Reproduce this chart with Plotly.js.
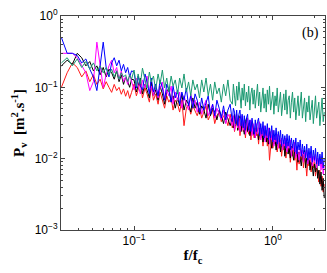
<!DOCTYPE html>
<html><head><meta charset="utf-8">
<script src="https://cdn.plot.ly/plotly-3.0.1.min.js"></script>
<style>html,body{margin:0;padding:0;background:#fff}#chart{width:327px;height:273px}</style>
</head><body><div id="chart"></div>
<script>
// normalized frequency f/fc
var freq = [0.030,0.033,0.036,0.039,0.042,0.045,0.048,0.051,0.054,0.057,0.060,0.063,0.066,0.069,0.072,0.075,0.078,0.081,0.084,0.087,0.090,0.093,0.096,
0.100,0.104,0.107,0.111,0.115,0.120,0.124,0.129,0.133,0.138,0.143,0.149,0.154,0.160,0.166,0.172,0.178,0.185,0.191,0.198,0.206,0.213,0.221,0.229,0.238,0.247,0.256,0.265,0.275,0.285,0.296,0.307,0.318,0.330,0.342,0.355,0.368,0.381,0.395,0.410,0.425,0.441,0.457,0.474,0.492,
0.510,0.519,0.529,0.538,0.548,0.558,0.569,0.579,0.590,0.600,0.611,0.622,0.634,0.645,0.657,0.669,0.682,0.694,0.707,0.720,0.733,0.746,0.760,0.774,0.788,0.802,0.817,0.832,0.848,0.863,0.879,0.895,0.911,0.928,0.945,0.962,0.980,0.998,1.016,1.035,1.054,1.073,1.093,1.113,1.133,1.154,1.175,1.196,1.218,1.240,1.263,1.286,1.310,1.334,1.358,1.383,1.409,1.435,1.461,1.488,1.515,1.543,1.571,1.600,1.629,1.659,1.689,1.720,1.751,1.783,1.816,1.849,1.883,1.918,1.953,1.989,2.025,2.062,2.100,2.139,2.178,2.218,2.258,2.300,2.342];

var pvBlue = [0.50,0.30,0.30,0.28,0.22,0.25,0.18,0.14,0.09,0.20,0.43,0.19,0.14,0.22,0.26,0.20,0.24,0.17,0.21,0.16,0.19,0.14,0.17,
0.164,0.098,0.144,0.104,0.092,0.154,0.119,0.081,0.135,0.086,
0.111,0.076,0.127,0.098,0.066,0.111,0.092,0.062,0.104,0.071,
0.092,0.058,0.086,0.066,0.098,0.055,0.076,0.051,0.081,0.066,
0.045,0.071,0.048,0.062,0.076,0.042,0.058,0.040,0.066,0.051,
0.037,0.055,0.035,0.048,0.058,
0.033,0.051,0.045,0.031,0.048,0.029,0.042,0.048,0.029,0.042,
0.027,0.040,0.025,0.037,0.042,0.025,0.035,0.024,0.037,0.027,
0.022,0.035,0.024,0.033,0.037,0.021,0.031,0.022,0.033,0.0195,
0.029,0.021,0.031,0.0183,0.027,0.0195,0.029,0.0171,0.025,0.0183,
0.027,0.016,0.024,0.0171,0.025,0.015,0.022,0.016,0.021,0.014,
0.022,0.015,0.021,0.0132,0.0195,0.014,0.0183,0.0124,0.0195,0.0116,
0.0171,0.0132,0.0183,0.0108,0.016,0.0116,0.015,0.0102,0.016,0.0095,
0.014,0.0102,0.015,0.0089,0.0132,0.0095,0.014,0.0084,0.0124,0.0079,
0.0116,0.0084,0.0124,0.0074,0.0102];

var pvMagenta = [0.30,0.30,0.30,0.26,0.20,0.16,0.09,0.12,0.43,0.20,0.10,0.15,0.20,0.24,0.16,0.19,0.13,0.17,0.12,0.14,0.11,0.15,0.12,
0.092,0.135,0.111,0.081,0.127,0.098,0.144,0.086,0.104,0.076,
0.111,0.071,0.098,0.119,0.066,0.092,0.076,0.104,0.058,0.086,
0.066,0.086,0.051,0.076,0.058,0.048,0.081,0.055,0.066,0.045,
0.062,0.042,0.055,0.066,0.040,0.048,0.058,0.037,0.051,0.042,
0.035,0.048,0.031,0.042,0.037,
0.029,0.040,0.025,0.035,0.042,0.027,0.037,0.024,0.033,0.040,
0.025,0.035,0.022,0.031,0.037,0.024,0.029,0.035,0.021,0.031,
0.025,0.0195,0.031,0.022,0.027,0.033,0.0183,0.027,0.021,0.029,
0.0171,0.025,0.0195,0.027,0.016,0.024,0.0183,0.025,0.015,0.021,
0.0171,0.022,0.014,0.021,0.016,0.0195,0.0132,0.0183,0.015,0.0195,
0.0124,0.0171,0.014,0.0183,0.0108,0.016,0.0132,0.0171,0.0102,0.015,
0.0124,0.0095,0.014,0.0108,0.0132,0.0089,0.0124,0.0102,0.0132,0.0084,
0.0116,0.0095,0.0124,0.0079,0.0108,0.0089,0.0116,0.0074,0.0102,0.0084,
0.0108,0.0069,0.0095,0.0061,0.0079];

var pvBlack = [0.20,0.24,0.21,0.30,0.26,0.20,0.23,0.17,0.20,0.15,0.19,0.14,0.18,0.16,0.13,0.17,0.12,0.15,0.11,0.14,0.12,0.10,0.13,
0.127,0.086,0.104,0.135,0.081,0.111,0.092,0.071,0.119,0.076,
0.092,0.066,0.104,0.081,0.058,0.086,0.098,0.062,0.076,0.051,
0.071,0.055,0.081,0.048,0.066,0.058,0.045,0.071,0.051,0.062,
0.042,0.055,0.048,0.037,0.058,0.040,0.051,0.045,0.035,0.048,
0.040,0.031,0.045,0.035,0.029,
0.037,0.027,0.042,0.029,0.035,0.025,0.040,0.031,0.024,0.035,
0.029,0.022,0.033,0.037,0.024,0.031,0.021,0.027,0.033,0.022,
0.025,0.0195,0.029,0.024,0.0183,0.027,0.021,0.025,0.0171,0.022,
0.025,0.0171,0.021,0.016,0.024,0.0183,0.014,0.021,0.016,0.0195,
0.0132,0.0183,0.015,0.0195,0.0124,0.016,0.014,0.0171,0.0108,0.015,
0.0171,0.0116,0.014,0.0102,0.015,0.0124,0.0095,0.0132,0.0108,0.014,
0.0089,0.0124,0.0102,0.0079,0.0116,0.0095,0.0132,0.0074,0.0102,0.0084,
0.0108,0.0069,0.0089,0.0079,0.0057,0.0084,0.0065,0.0095,0.0053,0.0069,
0.0044,0.0065,0.0036,0.0053,0.0028];

var pvRed = [0.10,0.16,0.22,0.19,0.14,0.17,0.12,0.15,0.11,0.13,0.095,0.12,0.10,0.085,0.11,0.09,0.10,0.08,0.095,0.075,0.09,0.07,0.085,
0.111,0.076,0.092,0.119,0.071,0.098,0.081,0.062,0.104,0.066,
0.081,0.058,0.086,0.066,0.051,0.076,0.062,0.071,0.048,0.066,
0.058,0.045,0.066,0.029,0.051,0.058,0.042,0.055,0.048,0.040,
0.051,0.037,0.045,0.055,0.035,0.042,0.048,0.031,0.040,0.045,
0.033,0.040,0.037,0.029,0.042,
0.027,0.035,0.024,0.031,0.037,0.025,0.033,0.021,0.029,0.035,
0.024,0.029,0.0195,0.031,0.025,0.022,0.033,0.0183,0.027,0.024,
0.0195,0.027,0.021,0.025,0.016,0.024,0.0195,0.022,0.015,0.021,
0.0183,0.024,0.015,0.0195,0.0095,0.0171,0.021,0.014,0.0183,0.016,
0.0195,0.0124,0.016,0.014,0.0183,0.0108,0.015,0.0132,0.016,0.0102,
0.014,0.0124,0.015,0.0089,0.0132,0.0108,0.014,0.0095,0.0116,0.0069,
0.0124,0.0084,0.0108,0.0095,0.0116,0.0074,0.0102,0.0089,0.0057,0.0095,
0.0079,0.0102,0.0065,0.0084,0.0074,0.0095,0.0057,0.0074,0.0065,0.0047,
0.0069,0.0041,0.0057,0.0034,0.0044];

var pvGreen = [0.22,0.26,0.20,0.25,0.19,0.23,0.18,0.22,0.17,0.20,0.16,0.19,0.15,0.18,0.14,0.17,0.13,0.16,0.14,0.15,0.12,0.15,0.13,
0.175,0.104,0.154,0.111,0.186,0.127,0.098,0.164,0.119,0.144,
0.092,0.154,0.111,0.175,0.098,0.135,0.086,0.144,0.104,0.127,
0.081,0.135,0.098,0.154,0.086,0.119,0.076,0.127,0.092,0.111,
0.071,0.127,0.086,0.135,0.076,0.111,0.066,0.119,0.081,0.098,
0.062,0.111,0.076,0.127,0.066,
0.058,0.111,0.076,0.055,0.104,0.066,0.119,0.071,0.051,0.098,
0.066,0.111,0.055,0.086,0.062,0.104,0.048,0.081,0.098,0.058,
0.092,0.051,0.076,0.111,0.055,0.086,0.045,0.076,0.098,0.051,
0.081,0.045,0.092,0.058,0.104,0.048,0.071,0.086,0.042,0.076,
0.055,0.098,0.045,0.071,0.086,0.040,0.066,0.081,0.048,0.092,
0.042,0.066,0.076,0.037,0.062,0.086,0.045,0.071,0.035,0.058,
0.076,0.040,0.066,0.086,0.037,0.055,0.071,0.033,0.062,0.045,
0.076,0.035,0.055,0.066,0.031,0.058,0.076,0.037,0.048,0.062,
0.029,0.055,0.071,0.033,0.045];

var xTickVals = [0.1, 1];
var xTickText = ['10<sup>\u22121</sup>', '10<sup>0</sup>'];
var yTickVals = [0.001, 0.01, 0.1, 1];
var yTickText = ['10<sup>\u22123</sup>', '10<sup>\u22122</sup>', '10<sup>\u22121</sup>', '10<sup>0</sup>'];

var seriesList = [
  {y: pvRed, color: '#ff1a1a'},
  {y: pvBlack, color: '#000000'},
  {y: pvMagenta, color: '#ff00ff'},
  {y: pvBlue, color: '#0000ff'},
  {y: pvGreen, color: '#1b9a72'}
];

var traces = seriesList.map(function(s){
  return {x: freq, y: s.y, type: 'scatter', mode: 'lines',
    line: {color: s.color, width: 1}, hoverinfo: 'skip', showlegend: false};
});

var axisCommon = {
  type: 'log', showline: true, linecolor: '#444', linewidth: 1, mirror: 'allticks',
  ticks: 'inside', ticklen: 4, tickcolor: '#444', showgrid: false, zeroline: false,
  minor: {ticks: 'inside', ticklen: 2, tickcolor: '#444', dtick: 'D1', showgrid: false},
  tickfont: {family: 'Liberation Sans, Arial, sans-serif', size: 12, color: '#000'}
};

var layout = {
  width: 327, height: 273,
  margin: {l: 61, r: 2, t: 16, b: 43},
  paper_bgcolor: '#fff', plot_bgcolor: '#fff',
  xaxis: Object.assign({}, axisCommon, {
    range: [Math.log10(0.0298), Math.log10(2.37)],
    tickvals: xTickVals, ticktext: xTickText,
    title: {text: '<b>f/f<sub>c</sub></b>', standoff: 2,
      font: {family: 'Liberation Serif, Times New Roman, serif', size: 15, color: '#000'}}
  }),
  yaxis: Object.assign({}, axisCommon, {
    range: [-3, 0],
    tickvals: yTickVals, ticktext: yTickText,
    title: {text: '<b>P<sub>v</sub>  [m<sup>2</sup>.s<sup>-1</sup>]</b>', standoff: 6,
      font: {family: 'Liberation Serif, Times New Roman, serif', size: 15, color: '#000'}}
  }),
  annotations: [{
    text: '(b)', xref: 'paper', yref: 'paper', x: 0.945, y: 0.92,
    xanchor: 'center', yanchor: 'middle', showarrow: false,
    font: {family: 'Liberation Serif, Times New Roman, serif', size: 14, color: '#000'}
  }]
};

Plotly.newPlot('chart', traces, layout, {displayModeBar: false, staticPlot: true});
</script>
</body></html>
